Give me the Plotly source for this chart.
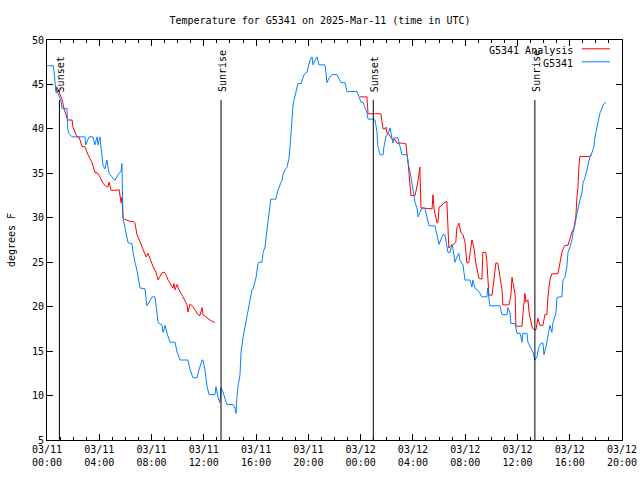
import pandas as pd
import plotly.graph_objects as go

START = "2025-03-11 00:00"

# Observations (G5341): minutes after start, degrees F
obs_min = [0, 28, 33, 37, 41, 50, 64, 69, 92, 95, 101, 115, 174, 178, 193, 211, 220, 230, 234, 243,
           253, 257, 266, 275, 285, 300, 312, 330, 340, 344, 349, 358, 372, 390, 395, 404, 413, 427,
           450, 459, 482, 496, 505, 510, 528, 533, 542, 551, 565, 588, 597, 611, 647, 657, 670, 689,
           698, 712, 716, 725, 735, 744, 771, 776, 785, 794, 799, 808, 826, 854, 863, 868, 872, 877,
           886, 891, 900, 909, 918, 923, 932, 941, 946, 960, 969, 973, 987, 992, 1001, 1006, 1010,
           1015, 1019, 1024, 1028, 1051, 1056, 1060, 1070, 1079, 1083, 1093, 1102, 1106, 1111, 1116,
           1120, 1125, 1129, 1134, 1143, 1148, 1152, 1166, 1171, 1180, 1194, 1198, 1207, 1217, 1221,
           1230, 1240, 1249, 1276, 1281, 1285, 1295, 1308, 1331, 1341, 1350, 1368, 1377, 1423, 1432,
           1442, 1451, 1460, 1469, 1474, 1497, 1506, 1515, 1519, 1529, 1543, 1547, 1556, 1566, 1575,
           1584, 1588, 1593, 1602, 1611, 1621, 1630, 1653, 1657, 1667, 1676, 1681, 1690, 1699, 1704,
           1712, 1722, 1735, 1745, 1754, 1781, 1791, 1800, 1809, 1818, 1827, 1836, 1841, 1850, 1859,
           1864, 1873, 1882, 1891, 1896, 1910, 1919, 1942, 1951, 1955, 1965, 1974, 1983, 1997, 2020,
           2024, 2033, 2080, 2089, 2112, 2116, 2126, 2130, 2149, 2158, 2172, 2181, 2185, 2204, 2208,
           2217, 2231, 2240, 2250, 2259, 2268, 2277, 2282, 2291, 2300, 2309, 2318, 2323, 2337, 2341,
           2351, 2364, 2369, 2378, 2387, 2392, 2401, 2410, 2415, 2424, 2433, 2438, 2447, 2456, 2461,
           2470, 2479, 2484, 2493, 2502, 2511, 2516, 2525, 2530, 2539, 2548, 2553, 2566]
obs_temp = [47.1, 47.1, 46.3, 45.2, 44.1, 44.1, 43.1, 42.3, 42.3, 40.0, 39.5, 39.1, 39.1, 38.2, 39.1,
            39.1, 38.2, 39.1, 38.2, 39.1, 36.5, 35.9, 35.5, 36.5, 35.0, 34.6, 34.2, 35.0, 35.2, 36.1,
            30.0, 28.9, 27.2, 27.1, 26.1, 25.0, 24.1, 22.1, 22.0, 20.1, 21.1, 21.1, 18.8, 18.2, 17.9,
            17.1, 17.9, 17.0, 16.0, 16.0, 14.9, 14.0, 14.0, 12.9, 12.0, 12.0, 12.9, 14.0, 14.0, 12.9,
            11.0, 10.1, 10.1, 11.0, 9.8, 9.2, 10.9, 10.4, 9.0, 9.0, 8.6, 8.0, 9.8, 11.0, 12.3, 14.9,
            16.5, 17.7, 18.7, 19.6, 20.4, 21.9, 22.0, 23.3, 24.9, 25.0, 25.0, 26.1, 26.7, 27.5, 28.6,
            29.7, 30.5, 31.8, 32.1, 32.1, 32.6, 33.1, 33.7, 34.2, 34.8, 35.4, 35.7, 36.2, 36.7, 38.0,
            39.5, 40.6, 42.5, 43.2, 44.0, 44.6, 45.1, 45.1, 45.5, 46.1, 46.4, 46.8, 47.7, 48.1, 47.2,
            47.7, 48.1, 47.2, 47.2, 46.3, 45.2, 45.7, 46.1, 46.1, 45.7, 45.2, 45.2, 44.2, 44.2, 43.5,
            43.0, 43.0, 42.5, 41.8, 41.1, 41.1, 41.0, 39.7, 38.0, 37.1, 37.1, 38.0, 39.1, 39.5, 40.1,
            38.8, 38.4, 39.0, 39.0, 39.0, 38.0, 37.1, 37.1, 36.2, 35.2, 33.9, 32.9, 31.7, 31.1, 30.1,
            30.6, 31.1, 31.1, 30.1, 29.1, 29.1, 28.1, 27.0, 27.6, 28.1, 28.1, 27.0, 26.1, 26.1, 27.0,
            26.5, 25.0, 25.6, 26.0, 25.2, 24.7, 23.0, 23.0, 22.2, 23.0, 22.1, 21.9, 21.7, 21.1, 21.1,
            22.1, 20.1, 20.1, 19.1, 19.1, 19.9, 19.3, 18.1, 18.1, 17.0, 17.0, 16.0, 17.0, 17.0, 16.0,
            15.5, 14.9, 14.0, 14.4, 15.5, 15.9, 15.9, 14.6, 15.5, 16.6, 17.9, 17.1, 18.2, 19.3, 21.0,
            21.1, 21.1, 23.0, 23.3, 24.5, 26.1, 26.7, 27.5, 28.3, 29.2, 30.5, 31.2, 32.0, 32.8, 33.9,
            34.5, 35.4, 36.2, 36.9, 37.3, 38.0, 39.1, 40.1, 41.0, 41.8, 42.3, 42.7, 43.0]

# Analysis (G5341 Analysis): minutes after start, degrees F (None = gap)
ana_min = [41, 50, 69, 78, 92, 96, 115, 119, 138, 147, 161, 174, 188, 207, 220, 230, 243, 257, 271,
           280, 285, 294, 326, 331, 340, 344, 349, 358, 381, 395, 404, 413, 427, 441, 455, 464, 473,
           487, 500, 510, 519, 528, 537, 546, 556, 569, 578, 583, 588, 597, 606, 620, 629, 643, 647,
           657, 670, 679, 693, 702, 712, 716, 735, 748, 771, 1100,
           1437, 1469, 1474, 1533, 1538, 1543, 1552, 1556, 1561, 1570, 1579, 1588, 1598, 1607, 1634,
           1648, 1653, 1657, 1662, 1667, 1671, 1690, 1694, 1699, 1704, 1708, 1712, 1717, 1722, 1768,
           1772, 1777, 1791, 1795, 1800, 1813, 1822, 1836, 1841, 1845, 1855, 1864, 1877, 1882, 1891,
           1901, 1910, 1919, 1928, 1937, 1951, 1960, 1969, 1983, 1997, 2001, 2015, 2020, 2029, 2043,
           2052, 2061, 2070, 2080, 2089, 2093, 2121, 2130, 2135, 2139, 2149, 2153, 2181, 2185, 2194,
           2199, 2208, 2213, 2227, 2236, 2245, 2254, 2263, 2277, 2286, 2295, 2300, 2309, 2318, 2346,
           2355, 2364, 2373, 2378, 2392, 2401, 2410, 2419, 2428, 2433, 2438, 2442, 2447, 2493, 2502]
ana_temp = [44.8, 44.5, 43.3, 42.3, 41.2, 41.0, 41.0, 40.2, 39.1, 39.1, 38.0, 38.0, 37.1, 36.2, 35.1,
            35.1, 34.6, 33.9, 33.5, 33.5, 34.0, 33.1, 33.1, 33.2, 31.7, 32.3, 30.0, 29.8, 29.6, 29.6,
            29.4, 28.1, 27.3, 26.4, 25.6, 26.0, 25.4, 24.5, 23.9, 23.0, 23.4, 23.8, 23.9, 23.6, 23.0,
            22.4, 22.1, 22.6, 21.9, 22.5, 21.9, 21.3, 20.8, 20.2, 19.4, 20.3, 20.0, 19.6, 19.1, 19.0,
            19.9, 19.1, 18.7, 18.5, 18.2, None,
            43.6, 43.6, 41.7, 41.7, 40.8, 40.0, 40.0, 40.2, 39.5, 39.4, 39.0, 38.8, 38.8, 38.4, 38.4,
            38.3, 37.1, 36.5, 35.0, 33.7, 32.5, 32.5, 32.9, 33.5, 34.2, 35.0, 35.7, 31.1, 31.1, 31.0,
            32.6, 31.0, 29.4, 29.5, 31.2, 31.4, 31.7, 31.8, 28.6, 26.6, 26.9, 26.9, 27.3, 28.9, 29.4,
            28.3, 28.1, 27.3, 24.9, 25.0, 27.5, 26.7, 24.9, 23.2, 23.1, 26.1, 26.1, 24.9, 21.3, 21.3,
            23.0, 24.9, 24.9, 23.3, 21.9, 20.2, 20.2, 21.3, 23.3, 22.7, 21.5, 17.8, 17.8, 19.1, 21.5,
            20.5, 20.8, 19.4, 17.7, 17.4, 17.4, 18.7, 17.9, 17.9, 19.1, 19.1, 21.1, 23.0, 23.7, 23.7,
            24.9, 26.1, 26.7, 26.9, 26.9, 27.8, 28.4, 28.8, 30.1, 32.3, 33.5, 35.7, 36.9, 36.9, 37.1]

sun_labels = ["Sunset", "Sunrise", "Sunset", "Sunrise"]
sun_times = ["2025-03-11 00:57", "2025-03-11 13:19", "2025-03-12 00:58", "2025-03-12 13:20"]
sun_line_top = 43.25

tick_vals = ["2025-03-11 00:00", "2025-03-11 04:00", "2025-03-11 08:00", "2025-03-11 12:00",
             "2025-03-11 16:00", "2025-03-11 20:00", "2025-03-12 00:00", "2025-03-12 04:00",
             "2025-03-12 08:00", "2025-03-12 12:00", "2025-03-12 16:00", "2025-03-12 20:00"]
tick_text = ["03/11<br>00:00", "03/11<br>04:00", "03/11<br>08:00", "03/11<br>12:00",
             "03/11<br>16:00", "03/11<br>20:00", "03/12<br>00:00", "03/12<br>04:00",
             "03/12<br>08:00", "03/12<br>12:00", "03/12<br>16:00", "03/12<br>20:00"]

start = pd.Timestamp(START)
obs_t = [start + pd.Timedelta(minutes=m) for m in obs_min]
ana_t = [start + pd.Timedelta(minutes=m) for m in ana_min]

FONT = "DejaVu Sans Mono"
RED = "#ff0000"
BLUE = "#0a80ff"

fig = go.Figure()
fig.add_trace(go.Scatter(x=ana_t, y=ana_temp, mode="lines", name="G5341 Analysis",
                         line=dict(color=RED, width=1), connectgaps=False))
fig.add_trace(go.Scatter(x=obs_t, y=obs_temp, mode="lines", name="G5341",
                         line=dict(color=BLUE, width=1)))

for lab, t in zip(sun_labels, sun_times):
    fig.add_shape(type="line", xref="x", yref="y", x0=t, x1=t, y0=5, y1=sun_line_top,
                  line=dict(color="black", width=1))
    fig.add_annotation(x=t, y=sun_line_top, xref="x", yref="y", text=lab, textangle=-90,
                       showarrow=False, xanchor="center", yanchor="bottom", yshift=6, xshift=1,
                       font=dict(family=FONT, size=10, color="black"))

# legend drawn gnuplot-style (text then line sample)
legend_items = [("G5341 Analysis", RED, 0.975), ("G5341", BLUE, 0.9425)]
for txt, col, yy in legend_items:
    fig.add_annotation(x=0.918, y=yy, xref="paper", yref="paper", text=txt, showarrow=False,
                       xanchor="right", yanchor="middle", font=dict(family=FONT, size=10, color="black"))
    fig.add_shape(type="line", xref="paper", yref="paper", x0=0.930, x1=0.979, y0=yy + 0.003,
                  y1=yy + 0.003, line=dict(color=col, width=1))

fig.update_layout(
    width=640, height=480,
    margin=dict(l=47, r=18, t=40, b=40),
    paper_bgcolor="white", plot_bgcolor="white",
    showlegend=False,
    font=dict(family=FONT, size=10, color="black"),
    title=dict(text="Temperature for G5341 on 2025-Mar-11 (time in UTC)", x=0.5, xanchor="center",
               y=1 - 20 / 480, yanchor="middle", font=dict(family=FONT, size=10, color="black")),
)
fig.update_xaxes(
    type="date", range=["2025-03-11 00:00", "2025-03-12 20:00"],
    tickvals=tick_vals, ticktext=tick_text, automargin=False,
    ticks="inside", ticklen=6, tickcolor="black", tickwidth=1,
    minor=dict(dtick=3600000, ticks="inside", ticklen=3, tickcolor="black", tickwidth=1),
    showline=True, linecolor="black", linewidth=1, mirror="ticks",
    showgrid=False, zeroline=False,
    tickfont=dict(family=FONT, size=10, color="black"),
)
fig.update_yaxes(
    range=[5, 50], dtick=5, tick0=5, automargin=False,
    ticks="inside", ticklen=6, tickcolor="black", tickwidth=1,
    showline=True, linecolor="black", linewidth=1, mirror="ticks",
    showgrid=False, zeroline=False,
    title=dict(text="degrees F", font=dict(family=FONT, size=10, color="black"), standoff=14),
    tickfont=dict(family=FONT, size=10, color="black"),
)

fig.write_html("out.html", config={"displayModeBar": False},
               post_script="document.body.style.margin='0px';")
